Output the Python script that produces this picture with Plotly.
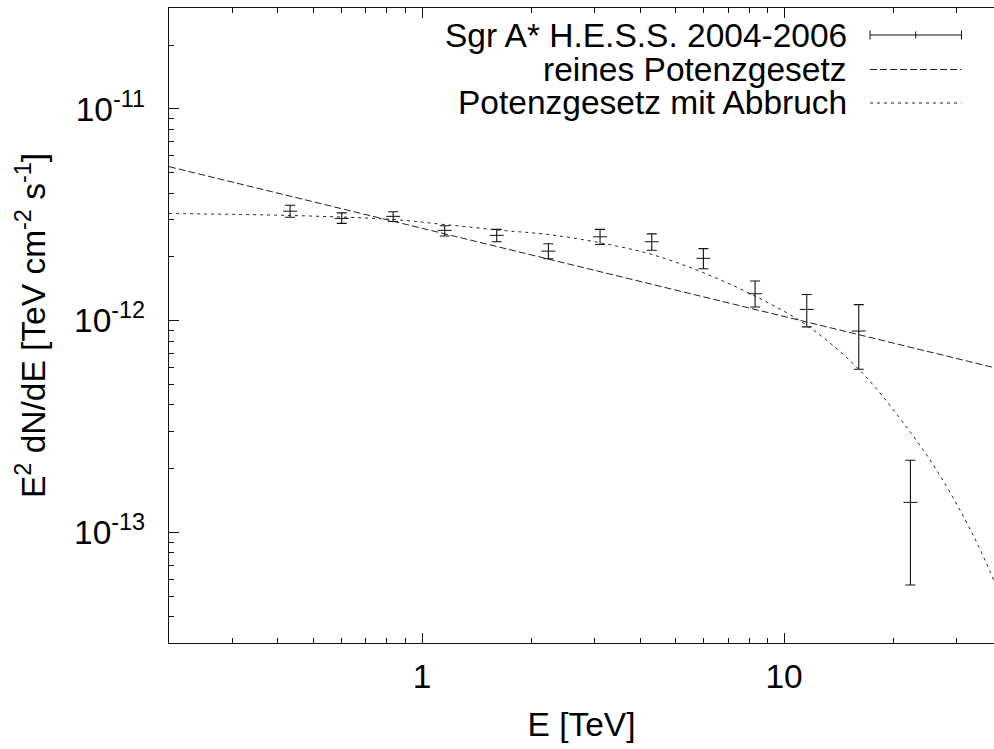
import plotly.graph_objects as go

# ---- data ----
energy = [0.432, 0.600, 0.832, 1.155, 1.608, 2.233, 3.102, 4.31, 5.985, 8.316, 11.55, 16.08, 22.33]
flux = [3.29e-12, 3.04e-12, 3.11e-12, 2.67e-12, 2.53e-12, 2.13e-12, 2.49e-12,
        2.36e-12, 1.97e-12, 1.34e-12, 1.13e-12, 8.93e-13, 1.385e-13]
flux_hi = [3.51e-12, 3.23e-12, 3.27e-12, 2.81e-12, 2.70e-12, 2.31e-12, 2.70e-12,
           2.57e-12, 2.19e-12, 1.54e-12, 1.33e-12, 1.19e-12, 2.19e-13]
flux_lo = [3.08e-12, 2.88e-12, 2.94e-12, 2.51e-12, 2.36e-12, 1.96e-12, 2.29e-12,
           2.15e-12, 1.76e-12, 1.16e-12, 0.935e-12, 5.89e-13, 5.64e-14]

pl_energy = [0.2, 38.0]
pl_flux = [5.34e-12, 6.0e-13]

cut_energy = [0.2, 0.432, 0.832, 1.155, 1.643, 2.23, 3.102, 4.31, 5.985, 8.316,
              11.55, 16.08, 22.33, 26.98, 33.34, 38.02]
cut_flux = [3.207e-12, 3.14e-12, 3.005e-12, 2.845e-12, 2.675e-12, 2.553e-12, 2.333e-12,
            2.055e-12, 1.684e-12, 1.306e-12, 9.50e-13, 5.89e-13, 2.97e-13, 1.849e-13,
            9.64e-14, 5.89e-14]

legend_labels = ["Sgr A* H.E.S.S. 2004-2006", "reines Potenzgesetz", "Potenzgesetz mit Abbruch"]

x_major = [1, 10]
x_major_text = ["1", "10"]
x_minor = [0.3, 0.4, 0.5, 0.6, 0.7, 0.8, 0.9, 2, 3, 4, 5, 6, 7, 8, 9, 20, 30]
y_major = [1e-13, 1e-12, 1e-11]
y_major_text = ["10<sup>-13</sup>", "10<sup>-12</sup>", "10<sup>-11</sup>"]
y_minor = [4e-14, 5e-14, 6e-14, 7e-14, 8e-14, 9e-14,
           2e-13, 3e-13, 4e-13, 5e-13, 6e-13, 7e-13, 8e-13, 9e-13,
           2e-12, 3e-12, 4e-12, 5e-12, 6e-12, 7e-12, 8e-12, 9e-12, 2e-11]

FONT = "Liberation Sans, Arial, Helvetica, sans-serif"
FS = 33.5
INK = "#111111"
DOT = "3px,4px"
DASH = "7px,3px"

err_plus = [h - f for h, f in zip(flux_hi, flux)]
err_minus = [f - l for f, l in zip(flux, flux_lo)]

fig = go.Figure()
fig.add_trace(go.Scatter(
    x=pl_energy, y=pl_flux, mode="lines",
    line=dict(color="#222222", width=1, dash=DASH), showlegend=False))
fig.add_trace(go.Scatter(
    x=cut_energy, y=cut_flux, mode="lines", line_shape="spline",
    line=dict(color="#222222", width=1, dash=DOT), showlegend=False))
fig.add_trace(go.Scatter(
    x=energy, y=flux, mode="markers",
    marker=dict(symbol="line-ew", size=10, line=dict(color=INK, width=1)),
    error_y=dict(type="data", array=err_plus, arrayminus=err_minus, symmetric=False,
                 color=INK, thickness=1.1, width=5),
    showlegend=False))

# ---- custom legend (text left, sample right, like gnuplot) ----
L, R, T, B = 169, 994, 8, 643
W, H = R - L, B - T
def px(xp):
    return (xp - L) / W
def py(yp):
    return (B - yp) / H

rows = [35, 69.5, 103]
for lab, yr in zip(legend_labels, rows):
    fig.add_annotation(text=lab, xref="paper", yref="paper", x=px(849), y=py(yr),
                       xanchor="right", yanchor="middle", showarrow=False,
                       font=dict(family=FONT, size=FS, color="black"))
sx0, sx1 = px(870), px(961.5)
# data sample
fig.add_shape(type="line", xref="paper", yref="paper", x0=sx0, x1=sx1, y0=py(rows[0]), y1=py(rows[0]),
              line=dict(color=INK, width=1))
for xx, hh in [(870, 4.5), (961.5, 4.5), (915.7, 3.5)]:
    fig.add_shape(type="line", xref="paper", yref="paper", x0=px(xx), x1=px(xx),
                  y0=py(rows[0] - hh), y1=py(rows[0] + hh), line=dict(color=INK, width=1))
fig.add_shape(type="line", xref="paper", yref="paper", x0=sx0, x1=sx1, y0=py(rows[1]), y1=py(rows[1]),
              line=dict(color="#222222", width=1, dash=DASH))
fig.add_shape(type="line", xref="paper", yref="paper", x0=sx0, x1=sx1, y0=py(rows[2]), y1=py(rows[2]),
              line=dict(color="#222222", width=1, dash=DOT))

fig.update_layout(
    width=994, height=749,
    margin=dict(l=L, r=994 - R, t=T, b=749 - B),
    paper_bgcolor="white", plot_bgcolor="white",
    font=dict(family=FONT, size=FS, color="black"),
    showlegend=False,
)
fig.update_xaxes(
    type="log", range=[-0.69897, 1.57978],
    tickmode="array", tickvals=x_major, ticktext=x_major_text,
    ticks="inside", ticklen=10, tickwidth=1, tickcolor=INK,
    minor=dict(tickmode="array", tickvals=x_minor, ticks="inside", ticklen=5,
               tickwidth=1, tickcolor=INK, showgrid=False),
    showline=True, linecolor=INK, linewidth=1.3, mirror="ticks",
    showgrid=False, zeroline=False,
    ticklabelstandoff=4,
    tickfont=dict(family=FONT, size=FS, color="black"),
    title=dict(text="E [TeV]", font=dict(family=FONT, size=FS, color="black"), standoff=18),
)
fig.update_yaxes(
    type="log", range=[-13.5229, -10.5229],
    tickmode="array", tickvals=y_major, ticktext=y_major_text,
    ticks="inside", ticklen=10, tickwidth=1, tickcolor=INK,
    minor=dict(tickmode="array", tickvals=y_minor, ticks="inside", ticklen=5,
               tickwidth=1, tickcolor=INK, showgrid=False),
    showline=True, linecolor=INK, linewidth=1.3, mirror=False,
    showgrid=False, zeroline=False,
    ticklabelstandoff=16,
    tickfont=dict(family=FONT, size=FS, color="black"),
    title=dict(text="E<sup>2</sup> dN/dE [TeV cm<sup>-2</sup> s<sup>-1</sup>]",
               font=dict(family=FONT, size=FS, color="black"), standoff=18),
)

fig.write_html("out.html")
